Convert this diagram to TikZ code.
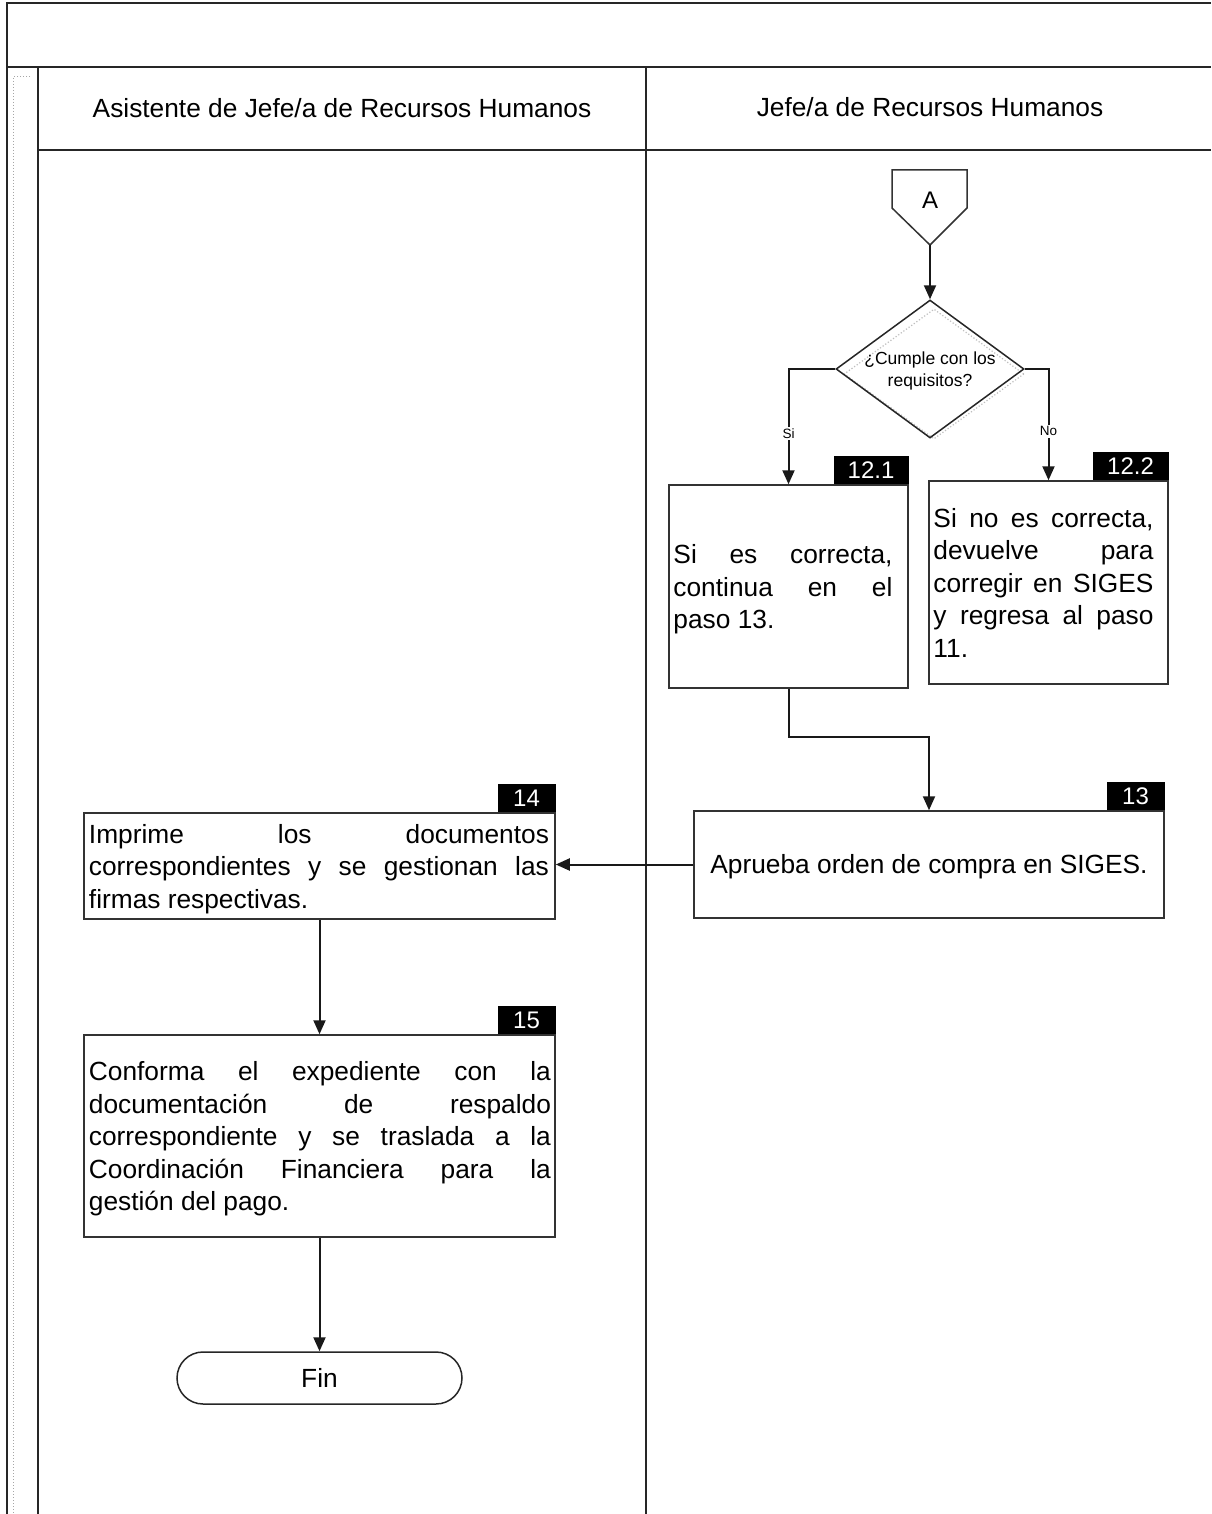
\documentclass[tikz,border=0pt]{standalone}
\usepackage{fontspec}
\setmainfont{Liberation Sans}
\usetikzlibrary{arrows.meta,shapes.geometric}
% a line whose interword spaces are stretched to the full text width
\newcommand{\fullline}[1]{{\spaceskip=0pt\xspaceskip=0pt\makebox[\linewidth][s]{#1}}}

\begin{document}
\begin{tikzpicture}[x=1pt,y=-1pt,
  lane/.style={line width=2pt, draw=black!85},
  guide/.style={draw=black!35, dotted, line width=1pt},
  stepbox/.style={draw=black!80, line width=1.5pt, rectangle, inner sep=0pt},
  bodyfont/.style={font=\fontsize{26.3}{32.5}\selectfont},
  steptext/.style={bodyfont, inner sep=0pt, align=justify, anchor=west},
  tag/.style={fill=black, text=white, inner sep=0pt, minimum height=28pt,
              anchor=south east, font=\fontsize{24}{24}\selectfont},
  flow/.style={line width=2pt, draw=black!90, -{Triangle[length=14pt,width=12pt]}},
  branch/.style={fill=white, inner sep=1.5pt, font=\fontsize{13.5}{13.5}\selectfont},
]
\useasboundingbox (0,0) rectangle (1211,1514);
\fill[white] (0,0) rectangle (1211,1514);

% ---- swimlane frame ----
\draw[lane] (7,1514) -- (7,3) -- (1211,3);
\draw[lane] (7,67) -- (1211,67);
\draw[lane] (38,150) -- (1211,150);
\draw[lane] (38,67) -- (38,1514);
\draw[lane] (646,67) -- (646,1514);
\draw[guide] (30,77) -- (13,77) -- (13,1514);

\node[bodyfont] (laneL) at (342,108) {Asistente de Jefe/a de Recursos Humanos};
\node[bodyfont] (laneR) at (930,107) {Jefe/a de Recursos Humanos};

% ---- off-page connector A ----
\draw[line width=1.5pt, draw=black!80] (892,170) -- (967,170) -- (967,208) -- (930,245) -- (892,208) -- cycle;
\node[font=\fontsize{24}{24}\selectfont] (offA) at (930,200) {A};
\coordinate (Atip) at (930,245);

% ---- decision ----
\node[diamond, draw=black!25, dotted, line width=1.2pt, inner sep=0pt,
      minimum width=180pt, minimum height=130pt] (decshade) at (934,374) {};
\node[diamond, draw=black!85, line width=1.5pt, inner sep=0pt,
      minimum width=188pt, minimum height=138pt] (dec) at (930,369) {};
\node[align=center, inner sep=0pt, font=\fontsize{17.5}{22}\selectfont] (dectext) at (930,371)
  {¿Cumple con los\\requisitos?};

% ---- step 12.1 ----
\node[stepbox, minimum width=239pt, minimum height=203pt] (b121) at (788.5,586.5) {};
\node[tag, minimum width=75pt] (t121) at (b121.north east) {12.1};
\node[steptext, text width=219pt] (x121) at ([xshift=5pt,yshift=-3pt]b121.west)
  {\fullline{Si es correcta,}\\\fullline{continua en el}\\paso 13.};

% ---- step 12.2 ----
\node[stepbox, minimum width=239pt, minimum height=203pt] (b122) at (1048.5,582.5) {};
\node[tag, minimum width=76pt] (t122) at (b122.north east) {12.2};
\node[steptext, text width=220pt] (x122) at ([xshift=5pt]b122.west)
  {\fullline{Si no es correcta,}\\\fullline{devuelve para}\\\fullline{corregir en SIGES}\\\fullline{y regresa al paso}\\11.};

% ---- step 13 ----
\node[stepbox, minimum width=470pt, minimum height=107pt] (b13) at (929,864.5) {};
\node[bodyfont, inner sep=0pt] (x13) at ([yshift=-2pt]b13.center) {Aprueba orden de compra en SIGES.};
\node[tag, minimum width=58pt] (t13) at (b13.north east) {13};

% ---- step 14 ----
\node[stepbox, minimum width=471pt, minimum height=106pt] (b14) at (319.5,866) {};
\node[tag, minimum width=58pt] (t14) at (b14.north east) {14};
\node[steptext, text width=460pt] (x14) at ([xshift=5.5pt,yshift=-3pt]b14.west)
  {\fullline{Imprime los documentos}\\\fullline{correspondientes y se gestionan las}\\firmas respectivas.};

% ---- step 15 ----
\node[stepbox, minimum width=471pt, minimum height=202pt] (b15) at (319.5,1136) {};
\node[tag, minimum width=58pt] (t15) at (b15.north east) {15};
\node[steptext, text width=462pt] (x15) at ([xshift=5.5pt,yshift=-3pt]b15.west)
  {\fullline{Conforma el expediente con la}\\\fullline{documentación de respaldo}\\\fullline{correspondiente y se traslada a la}\\\fullline{Coordinación Financiera para la}\\gestión del pago.};

% ---- end ----
\node[draw=black!85, line width=1.5pt, rounded corners=26pt, bodyfont,
      minimum width=285pt, minimum height=52pt, inner sep=0pt] (fin) at (319.5,1378) {Fin};

% ---- connectors ----
\draw[flow] (Atip) -- (dec.north);
\draw[flow] (dec.west) -| node[branch, pos=0.78] (lblSi) {Si} (b121.north);
\draw[flow] (dec.east) -| node[branch, pos=0.78] (lblNo) {No} (b122.north);
\draw[flow] (b121.south) -- ++(0,48) -| (b13.north);
\draw[flow] (b13.west) -- (b13.west -| b14.east);
\draw[flow] (b14.south) -- (b15.north);
\draw[flow] (b15.south) -- (fin.north);
\end{tikzpicture}
\end{document}
